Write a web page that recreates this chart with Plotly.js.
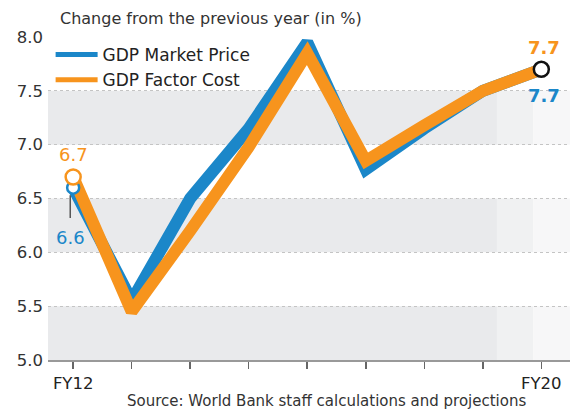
<!DOCTYPE html>
<html>
<head>
<meta charset="utf-8">
<script src="https://cdn.plot.ly/plotly-3.0.1.min.js"></script>
<style>html,body{margin:0;padding:0;background:#fff;}#chart{width:575px;height:414px;}</style>
</head>
<body>
<div id="chart"></div>
<script>
var years = ['FY12','FY13','FY14','FY15','FY16','FY17','FY18','FY19','FY20'];
var tickLabels = ['FY12','','','','','','','','FY20'];
var marketPrice = [6.6, 5.55, 6.5, 7.15, 7.95, 6.77, 7.15, 7.5, 7.7];
var factorCost  = [6.7, 5.45, 6.2, 6.98, 7.85, 6.85, 7.18, 7.5, 7.7];
var yTicks = [5.0, 5.5, 6.0, 6.5, 7.0, 7.5, 8.0];

var blue = '#1b87c9';
var orange = '#f7941d';
var idx = years.map(function(_, i){ return i; });
var last = years.length - 1;
var FONT = 'DejaVu Sans, Verdana, sans-serif';

var traces = [
  {x: idx, y: marketPrice, name: 'GDP Market Price', mode: 'lines', showlegend: false,
   line: {color: blue, width: 12}, cliponaxis: false},
  {x: idx, y: factorCost, name: 'GDP Factor Cost', mode: 'lines', showlegend: false,
   line: {color: orange, width: 12}, cliponaxis: false},
  {x: [0], y: [marketPrice[0]], mode: 'markers', showlegend: false, cliponaxis: false,
   marker: {size: 12, color: '#fff', line: {color: blue, width: 2.5}}},
  {x: [0], y: [factorCost[0]], mode: 'markers', showlegend: false, cliponaxis: false,
   marker: {size: 15, color: '#fff', line: {color: orange, width: 2.5}}},
  {x: [last], y: [factorCost[last]], mode: 'markers', showlegend: false, cliponaxis: false,
   marker: {size: 15, color: '#fff', line: {color: '#111', width: 2.5}}},
  {x: [null], y: [null], name: 'GDP Market Price', mode: 'lines',
   line: {color: blue, width: 5}},
  {x: [null], y: [null], name: 'GDP Factor Cost', mode: 'lines',
   line: {color: orange, width: 5}}
];

var shapes = [];
[[5.0,5.5],[6.0,6.5],[7.0,7.5]].forEach(function(b){
  shapes.push({type:'rect', xref:'paper', yref:'y', x0:0, x1:0.86, y0:b[0], y1:b[1],
    fillcolor:'#e9eaec', line:{width:0}, layer:'below'});
  shapes.push({type:'rect', xref:'paper', yref:'y', x0:0.86, x1:0.93, y0:b[0], y1:b[1],
    fillcolor:'#f0f1f2', line:{width:0}, layer:'below'});
  shapes.push({type:'rect', xref:'paper', yref:'y', x0:0.93, x1:1, y0:b[0], y1:b[1],
    fillcolor:'#f7f7f8', line:{width:0}, layer:'below'});
});
shapes.push({type:'line', xref:'x', yref:'y', x0:-0.05, x1:-0.05, y0:6.53, y1:6.32,
  line:{color:'#555', width:1.5}});

var layout = {
  width: 575, height: 414,
  margin: {l: 48, r: 5, t: 37, b: 54},
  paper_bgcolor: '#fff', plot_bgcolor: '#fff',
  font: {family: FONT, color: '#333'},
  title: {text: 'Change from the previous year (in %)', x: 60/575, xanchor: 'left',
          y: 0.955, yanchor: 'middle', font: {family: FONT, size: 16, color: '#333'}},
  xaxis: {range: [-0.43, 8.49], tickvals: idx, ticktext: tickLabels,
          showgrid: false, zeroline: false, showline: true, linecolor: '#999', linewidth: 2,
          ticks: 'outside', ticklen: 7, tickwidth: 1.5, tickcolor: '#666',
          tickfont: {family: FONT, size: 16.5, color: '#222'}, fixedrange: true},
  yaxis: {range: [5, 8], tickvals: yTicks, tickformat: '.1f', showgrid: true,
          gridcolor: '#c4c4c4', griddash: 'dot', gridwidth: 1, zeroline: false,
          showline: false, ticks: '', ticklabelstandoff: 4,
          tickfont: {family: FONT, size: 16.5, color: '#333'}, fixedrange: true},
  legend: {x: 0.005, y: 1.0, xanchor: 'left', yanchor: 'top', bgcolor: 'rgba(0,0,0,0)',
           font: {family: FONT, size: 17, color: '#222'}, itemwidth: 42, tracegroupgap: 0},
  shapes: shapes,
  annotations: [
    {x: 0, y: factorCost[0], xref: 'x', yref: 'y', text: '6.7', showarrow: false,
     yshift: 22, font: {family: FONT, size: 18, color: orange}},
    {x: -0.05, y: marketPrice[0], xref: 'x', yref: 'y', text: '6.6', showarrow: false,
     yshift: -50, font: {family: FONT, size: 18, color: blue}},
    {x: last + 0.05, y: factorCost[last], xref: 'x', yref: 'y', text: '<b>7.7</b>', showarrow: false,
     yshift: 22, font: {family: FONT, size: 18, color: orange}},
    {x: last + 0.05, y: factorCost[last], xref: 'x', yref: 'y', text: '<b>7.7</b>', showarrow: false,
     yshift: -26, font: {family: FONT, size: 18, color: blue}},
    {x: (125-48)/522, y: -0.128, xref: 'paper', yref: 'paper', xanchor: 'left', yanchor: 'middle',
     text: 'Source: World Bank staff calculations and projections', showarrow: false,
     font: {family: FONT, size: 15, color: '#333'}}
  ]
};

Plotly.newPlot('chart', traces, layout, {displayModeBar: false, staticPlot: true});
</script>
</body>
</html>
